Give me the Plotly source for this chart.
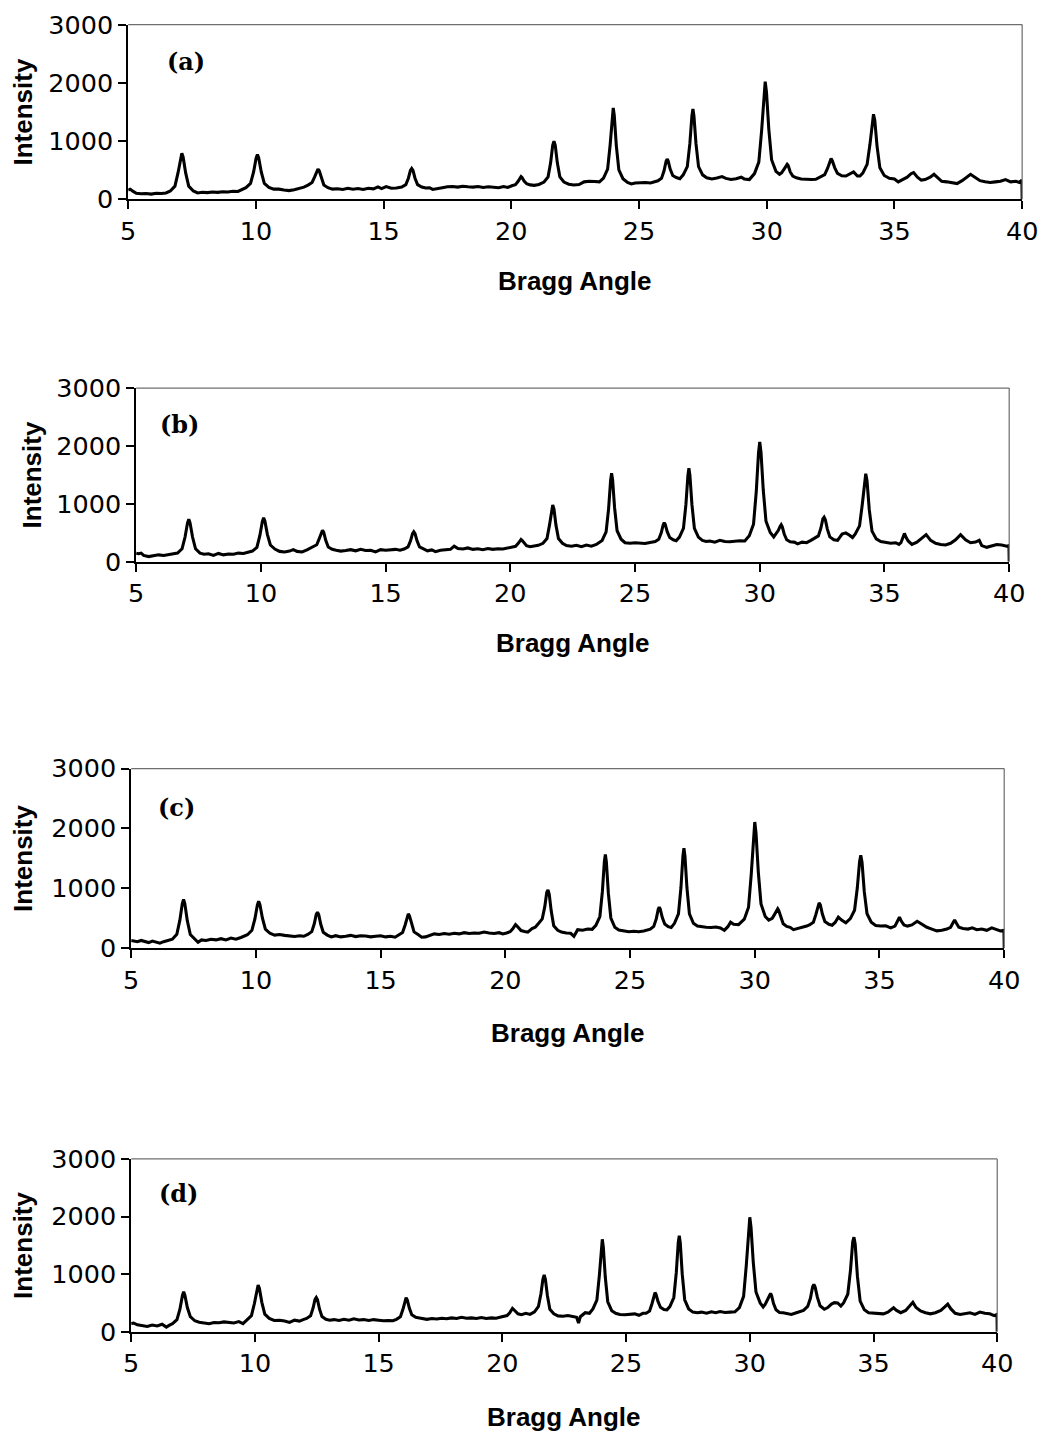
import plotly.graph_objects as go

# ---- diffraction scans: (2-theta in degrees, counts) ----
scan_a = [
    (5.00, 160), (5.08, 175), (5.18, 140), (5.32, 105), (5.50, 95), (5.70, 100), (5.90, 90), (6.10, 105),
    (6.30, 100), (6.48, 110), (6.65, 144), (6.83, 226), (6.95, 453), (7.05, 727), (7.10, 790), (7.15, 727),
    (7.25, 453), (7.37, 226), (7.55, 144), (7.72, 110), (7.90, 120), (8.10, 115), (8.30, 125), (8.50, 120),
    (8.70, 130), (8.90, 125), (9.10, 140), (9.30, 135), (9.45, 160), (9.61, 200), (9.79, 272), (9.91, 470),
    (10.01, 710), (10.06, 770), (10.11, 710), (10.21, 470), (10.33, 275), (10.51, 205), (10.70, 175),
    (10.90, 175), (11.10, 160), (11.30, 150), (11.50, 165), (11.70, 185), (11.88, 210), (12.04, 245),
    (12.20, 290), (12.30, 385), (12.38, 490), (12.43, 520), (12.48, 490), (12.56, 360), (12.66, 245),
    (12.82, 200), (13.00, 175), (13.20, 180), (13.40, 170), (13.60, 190), (13.80, 175), (14.00, 185),
    (14.20, 170), (14.40, 190), (14.60, 180), (14.78, 215), (14.92, 185), (15.10, 220), (15.30, 190),
    (15.50, 195), (15.71, 212), (15.87, 252), (15.97, 362), (16.05, 497), (16.10, 530), (16.15, 497),
    (16.23, 362), (16.33, 252), (16.49, 212), (16.65, 195), (16.80, 200), (16.92, 170), (17.10, 190),
    (17.30, 200), (17.50, 215), (17.70, 220), (17.90, 210), (18.10, 225), (18.30, 215), (18.50, 210),
    (18.70, 220), (18.90, 205), (19.10, 215), (19.30, 210), (19.50, 200), (19.70, 220), (19.86, 205),
    (20.02, 233), (20.16, 252), (20.26, 305), (20.34, 374), (20.38, 390), (20.42, 374), (20.50, 315),
    (20.60, 268), (20.74, 248), (20.90, 240), (21.08, 255), (21.28, 297), (21.44, 386), (21.54, 630),
    (21.62, 926), (21.67, 1000), (21.72, 926), (21.80, 630), (21.90, 386), (22.06, 297), (22.25, 260),
    (22.45, 245), (22.65, 255), (22.85, 300), (23.05, 310), (23.25, 305), (23.45, 300), (23.61, 364),
    (23.77, 517), (23.87, 937), (23.95, 1447), (23.99, 1570), (24.03, 1447), (24.11, 927), (24.21, 507),
    (24.37, 354), (24.55, 290), (24.70, 265), (24.85, 280), (25.05, 285), (25.25, 290), (25.45, 280),
    (25.60, 300), (25.74, 318), (25.88, 360), (25.98, 490), (26.06, 654), (26.10, 690), (26.14, 660),
    (26.22, 520), (26.32, 410), (26.46, 375), (26.60, 355), (26.73, 420), (26.89, 562), (26.99, 955),
    (27.07, 1431), (27.11, 1550), (27.15, 1431), (27.23, 955), (27.33, 562), (27.49, 420), (27.65, 370),
    (27.85, 350), (28.05, 365), (28.25, 390), (28.40, 360), (28.60, 340), (28.80, 355), (29.00, 380),
    (29.12, 350), (29.32, 340), (29.52, 442), (29.69, 640), (29.80, 1180), (29.89, 1836), (29.94, 2020),
    (29.99, 1840), (30.08, 1210), (30.19, 680), (30.36, 480), (30.50, 430), (30.58, 455), (30.68, 520),
    (30.76, 580), (30.80, 600), (30.84, 580), (30.92, 470), (31.02, 400), (31.16, 370), (31.35, 350),
    (31.55, 340), (31.75, 340), (31.92, 345), (32.10, 386), (32.27, 425), (32.38, 530), (32.47, 660),
    (32.52, 700), (32.57, 660), (32.66, 545), (32.77, 445), (32.94, 405), (33.10, 400), (33.25, 440),
    (33.40, 470), (33.55, 400), (33.65, 400), (33.76, 450), (33.93, 600), (34.04, 940), (34.13, 1360),
    (34.18, 1460), (34.23, 1360), (34.32, 910), (34.43, 540), (34.60, 410), (34.80, 360), (35.00, 350),
    (35.15, 300), (35.30, 330), (35.50, 380), (35.65, 440), (35.75, 460), (35.90, 380), (36.05, 330),
    (36.20, 340), (36.40, 380), (36.55, 430), (36.70, 370), (36.85, 310), (37.05, 300), (37.25, 290),
    (37.45, 270), (37.65, 320), (37.85, 390), (37.98, 430), (38.15, 380), (38.35, 320), (38.55, 300),
    (38.75, 290), (38.95, 300), (39.15, 310), (39.35, 340), (39.55, 300), (39.75, 310), (39.90, 290),
    (39.99, 330), (40.00, 0),
]

scan_b = [
    (5.00, 150), (5.10, 140), (5.20, 150), (5.30, 110), (5.50, 90), (5.70, 100), (5.90, 120), (6.10, 110),
    (6.30, 125), (6.48, 135), (6.66, 150), (6.84, 225), (6.96, 428), (7.06, 673), (7.11, 735), (7.16, 673),
    (7.26, 428), (7.38, 225), (7.56, 150), (7.72, 130), (7.90, 140), (8.10, 110), (8.30, 145), (8.50, 120),
    (8.70, 135), (8.90, 130), (9.10, 150), (9.30, 145), (9.48, 165), (9.66, 185), (9.84, 250), (9.96, 455),
    (10.06, 700), (10.11, 760), (10.16, 705), (10.26, 475), (10.38, 290), (10.56, 220), (10.75, 180),
    (10.95, 170), (11.15, 185), (11.30, 210), (11.45, 180), (11.65, 170), (11.85, 205), (12.08, 255),
    (12.24, 295), (12.34, 400), (12.42, 515), (12.47, 545), (12.52, 510), (12.60, 370), (12.70, 255),
    (12.86, 215), (13.02, 200), (13.20, 185), (13.40, 195), (13.60, 210), (13.80, 190), (14.00, 215),
    (14.20, 195), (14.40, 200), (14.60, 170), (14.80, 210), (15.00, 200), (15.20, 210), (15.40, 215),
    (15.58, 200), (15.74, 220), (15.90, 258), (16.00, 362), (16.08, 488), (16.13, 520), (16.18, 488),
    (16.26, 362), (16.36, 258), (16.52, 220), (16.68, 190), (16.85, 205), (17.00, 175), (17.20, 200),
    (17.40, 210), (17.60, 215), (17.75, 270), (17.90, 230), (18.10, 220), (18.30, 240), (18.50, 215),
    (18.70, 225), (18.90, 210), (19.10, 230), (19.30, 215), (19.50, 225), (19.70, 220), (19.90, 240),
    (20.07, 250), (20.21, 268), (20.31, 315), (20.39, 370), (20.43, 385), (20.47, 370), (20.55, 320),
    (20.65, 278), (20.79, 262), (20.95, 275), (21.12, 285), (21.31, 320), (21.47, 403), (21.57, 633),
    (21.65, 910), (21.70, 980), (21.75, 910), (21.83, 633), (21.93, 403), (22.09, 320), (22.25, 280),
    (22.45, 270), (22.65, 285), (22.85, 260), (23.05, 290), (23.25, 270), (23.45, 300), (23.68, 370),
    (23.84, 516), (23.94, 915), (24.02, 1400), (24.06, 1530), (24.10, 1420), (24.18, 935), (24.28, 536),
    (24.44, 390), (24.60, 330), (24.80, 320), (25.00, 330), (25.20, 325), (25.40, 315), (25.60, 335),
    (25.81, 350), (25.95, 390), (26.05, 500), (26.13, 640), (26.17, 675), (26.21, 645), (26.29, 520),
    (26.39, 420), (26.53, 380), (26.65, 365), (26.78, 427), (26.94, 577), (27.04, 990), (27.12, 1490),
    (27.16, 1615), (27.20, 1490), (27.28, 990), (27.38, 577), (27.54, 427), (27.70, 370), (27.85, 350),
    (28.00, 360), (28.20, 340), (28.40, 370), (28.60, 350), (28.80, 345), (29.00, 360), (29.20, 365),
    (29.40, 360), (29.58, 450), (29.75, 650), (29.86, 1210), (29.95, 1880), (30.00, 2070), (30.05, 1890),
    (30.14, 1240), (30.25, 700), (30.42, 505), (30.56, 430), (30.64, 470), (30.74, 540), (30.82, 615),
    (30.86, 640), (30.90, 610), (30.98, 480), (31.08, 380), (31.22, 345), (31.38, 340), (31.52, 310),
    (31.70, 340), (31.88, 330), (32.05, 370), (32.19, 400), (32.35, 448), (32.45, 580), (32.53, 740),
    (32.58, 770), (32.63, 725), (32.71, 565), (32.81, 430), (32.97, 380), (33.12, 370), (33.30, 480),
    (33.45, 500), (33.60, 460), (33.72, 420), (33.83, 480), (34.00, 620), (34.11, 990), (34.20, 1410),
    (34.25, 1520), (34.30, 1400), (34.39, 900), (34.50, 530), (34.67, 395), (34.85, 350), (35.05, 340),
    (35.25, 320), (35.45, 330), (35.58, 300), (35.66, 330), (35.74, 430), (35.80, 490), (35.87, 420),
    (35.95, 360), (36.10, 300), (36.30, 340), (36.50, 410), (36.67, 470), (36.85, 370), (37.05, 320),
    (37.25, 300), (37.45, 290), (37.65, 320), (37.85, 380), (38.05, 470), (38.25, 380), (38.45, 330),
    (38.65, 340), (38.80, 370), (38.90, 280), (39.10, 250), (39.30, 280), (39.50, 300), (39.70, 290),
    (39.90, 270), (39.99, 280), (40.00, 0),
]

scan_c = [
    (5.00, 130), (5.10, 120), (5.25, 110), (5.40, 130), (5.55, 115), (5.70, 95), (5.85, 120), (6.00, 100),
    (6.15, 85), (6.30, 110), (6.48, 125), (6.65, 150), (6.83, 234), (6.95, 465), (7.05, 745), (7.10, 815),
    (7.15, 745), (7.25, 460), (7.37, 230), (7.55, 145), (7.68, 100), (7.82, 140), (8.00, 130), (8.20, 150),
    (8.40, 140), (8.60, 160), (8.80, 140), (9.00, 170), (9.20, 150), (9.40, 180), (9.52, 195), (9.66, 225),
    (9.84, 300), (9.96, 490), (10.06, 725), (10.11, 785), (10.16, 730), (10.26, 505), (10.38, 320),
    (10.56, 250), (10.75, 220), (10.95, 230), (11.15, 215), (11.35, 200), (11.55, 195), (11.75, 210),
    (11.92, 200), (12.08, 230), (12.24, 277), (12.34, 408), (12.42, 565), (12.47, 600), (12.52, 560),
    (12.60, 400), (12.70, 268), (12.86, 220), (13.02, 190), (13.20, 210), (13.40, 190), (13.60, 200),
    (13.80, 215), (14.00, 195), (14.20, 210), (14.40, 205), (14.60, 190), (14.80, 200), (15.00, 210),
    (15.20, 190), (15.40, 200), (15.58, 185), (15.72, 218), (15.88, 263), (15.98, 385), (16.06, 533),
    (16.11, 575), (16.16, 537), (16.24, 395), (16.34, 273), (16.50, 228), (16.65, 185), (16.80, 190),
    (16.95, 210), (17.15, 240), (17.35, 230), (17.55, 245), (17.75, 235), (17.95, 250), (18.15, 240),
    (18.35, 260), (18.55, 245), (18.75, 255), (18.95, 250), (19.15, 270), (19.35, 255), (19.55, 245),
    (19.75, 260), (19.90, 240), (20.05, 255), (20.19, 275), (20.29, 320), (20.37, 380), (20.41, 395),
    (20.45, 380), (20.53, 335), (20.63, 295), (20.77, 280), (20.90, 270), (21.07, 330), (21.20, 350),
    (21.32, 410), (21.48, 490), (21.58, 690), (21.66, 930), (21.71, 975), (21.76, 900), (21.84, 620),
    (21.94, 375), (22.10, 300), (22.25, 270), (22.45, 255), (22.62, 250), (22.75, 200), (22.90, 310),
    (23.10, 300), (23.30, 320), (23.48, 315), (23.63, 382), (23.79, 530), (23.89, 945), (23.97, 1445),
    (24.01, 1565), (24.05, 1440), (24.13, 920), (24.23, 505), (24.39, 350), (24.55, 305), (24.75, 285),
    (24.95, 275), (25.15, 285), (25.35, 275), (25.55, 290), (25.68, 300), (25.81, 318), (25.95, 365),
    (26.05, 490), (26.13, 650), (26.17, 686), (26.21, 655), (26.29, 515), (26.39, 405), (26.53, 360),
    (26.65, 345), (26.78, 416), (26.94, 574), (27.04, 1010), (27.12, 1540), (27.16, 1672), (27.20, 1540),
    (27.28, 1010), (27.38, 574), (27.54, 416), (27.70, 370), (27.88, 355), (28.05, 350), (28.25, 345),
    (28.45, 355), (28.62, 340), (28.78, 300), (28.92, 360), (29.03, 435), (29.15, 400), (29.35, 395),
    (29.58, 485), (29.75, 685), (29.86, 1240), (29.95, 1910), (30.00, 2107), (30.05, 1920), (30.14, 1280),
    (30.25, 740), (30.42, 530), (30.56, 470), (30.70, 500), (30.80, 570), (30.88, 635), (30.92, 658),
    (30.96, 630), (31.04, 520), (31.14, 410), (31.28, 365), (31.42, 350), (31.55, 310), (31.75, 330),
    (31.95, 360), (32.08, 370), (32.19, 390), (32.35, 435), (32.45, 565), (32.53, 720), (32.58, 758),
    (32.63, 722), (32.71, 570), (32.81, 445), (32.97, 400), (33.10, 385), (33.22, 430), (33.35, 520),
    (33.48, 470), (33.65, 425), (33.83, 495), (34.00, 635), (34.11, 1005), (34.20, 1440), (34.25, 1550),
    (34.30, 1435), (34.39, 945), (34.50, 575), (34.67, 435), (34.85, 380), (35.05, 370), (35.25, 375),
    (35.45, 340), (35.62, 370), (35.72, 470), (35.80, 518), (35.88, 450), (35.98, 390), (36.12, 370),
    (36.30, 390), (36.51, 451), (36.70, 400), (36.90, 350), (37.10, 320), (37.30, 290), (37.50, 300),
    (37.70, 320), (37.85, 350), (37.94, 430), (38.01, 474), (38.08, 420), (38.18, 350), (38.35, 330),
    (38.55, 320), (38.72, 340), (38.90, 310), (39.10, 320), (39.30, 300), (39.50, 340), (39.70, 310),
    (39.85, 290), (39.99, 300), (40.00, 0),
]

scan_d = [
    (5.00, 140), (5.10, 150), (5.25, 120), (5.45, 110), (5.65, 90), (5.85, 115), (6.05, 100), (6.25, 130),
    (6.42, 80), (6.55, 115), (6.67, 140), (6.85, 210), (6.97, 390), (7.07, 625), (7.12, 695), (7.17, 635),
    (7.27, 420), (7.39, 260), (7.57, 190), (7.75, 165), (7.95, 150), (8.15, 140), (8.35, 160), (8.55, 155),
    (8.75, 170), (8.95, 165), (9.15, 150), (9.35, 175), (9.52, 140), (9.68, 205), (9.86, 280), (9.98, 490),
    (10.08, 750), (10.13, 810), (10.18, 755), (10.28, 510), (10.40, 305), (10.58, 230), (10.78, 195),
    (11.00, 200), (11.20, 185), (11.40, 160), (11.60, 200), (11.80, 185), (11.95, 210), (12.09, 230),
    (12.25, 277), (12.35, 408), (12.43, 560), (12.48, 595), (12.53, 555), (12.61, 395), (12.71, 262),
    (12.87, 215), (13.02, 200), (13.20, 210), (13.40, 195), (13.60, 215), (13.80, 200), (14.00, 225),
    (14.20, 205), (14.40, 210), (14.60, 195), (14.80, 210), (15.00, 200), (15.20, 190), (15.40, 195),
    (15.58, 190), (15.72, 215), (15.88, 260), (15.98, 385), (16.06, 540), (16.11, 590), (16.16, 550),
    (16.24, 410), (16.34, 295), (16.50, 250), (16.65, 240), (16.80, 225), (16.95, 215), (17.15, 230),
    (17.35, 220), (17.55, 235), (17.75, 225), (17.95, 240), (18.15, 230), (18.35, 250), (18.55, 235),
    (18.75, 240), (18.95, 230), (19.15, 245), (19.35, 230), (19.55, 240), (19.75, 235), (19.90, 250),
    (20.05, 262), (20.19, 280), (20.29, 325), (20.37, 390), (20.41, 405), (20.45, 390), (20.53, 345),
    (20.63, 310), (20.77, 295), (20.95, 320), (21.12, 300), (21.30, 345), (21.46, 440), (21.56, 660),
    (21.64, 915), (21.69, 985), (21.74, 910), (21.82, 630), (21.92, 390), (22.08, 310), (22.25, 275),
    (22.45, 270), (22.65, 280), (22.85, 260), (23.00, 250), (23.08, 150), (23.15, 260), (23.35, 330),
    (23.52, 320), (23.66, 395), (23.82, 550), (23.92, 975), (24.00, 1480), (24.04, 1605), (24.08, 1475),
    (24.16, 950), (24.26, 520), (24.42, 365), (24.58, 320), (24.75, 300), (24.95, 295), (25.15, 300),
    (25.35, 310), (25.52, 285), (25.68, 320), (25.81, 320), (25.95, 360), (26.05, 490), (26.13, 645),
    (26.17, 680), (26.21, 650), (26.29, 525), (26.39, 425), (26.53, 385), (26.65, 380), (26.77, 436),
    (26.93, 594), (27.03, 1030), (27.11, 1555), (27.15, 1668), (27.19, 1545), (27.27, 1000), (27.37, 555),
    (27.53, 395), (27.70, 340), (27.88, 330), (28.05, 340), (28.25, 320), (28.45, 345), (28.62, 330),
    (28.80, 350), (29.00, 335), (29.20, 340), (29.40, 345), (29.58, 420), (29.75, 615), (29.86, 1160),
    (29.95, 1800), (30.00, 1987), (30.05, 1810), (30.14, 1210), (30.25, 690), (30.42, 500), (30.54, 430),
    (30.62, 475), (30.72, 560), (30.80, 640), (30.84, 666), (30.88, 630), (30.96, 490), (31.06, 380),
    (31.20, 335), (31.35, 330), (31.50, 320), (31.68, 300), (31.88, 330), (32.05, 360), (32.17, 370),
    (32.34, 440), (32.45, 580), (32.54, 780), (32.59, 823), (32.64, 775), (32.73, 600), (32.84, 450),
    (33.01, 390), (33.15, 420), (33.30, 480), (33.42, 505), (33.55, 500), (33.68, 445), (33.79, 500),
    (33.96, 650), (34.07, 1070), (34.16, 1560), (34.21, 1640), (34.26, 1520), (34.35, 960), (34.46, 530),
    (34.63, 380), (34.80, 330), (35.00, 325), (35.20, 320), (35.40, 310), (35.58, 340), (35.70, 385),
    (35.81, 415), (35.93, 370), (36.10, 330), (36.30, 370), (36.45, 440), (36.59, 510), (36.72, 420),
    (36.90, 360), (37.10, 330), (37.30, 310), (37.50, 330), (37.72, 370), (37.88, 430), (38.00, 480),
    (38.12, 400), (38.30, 320), (38.50, 300), (38.70, 320), (38.90, 330), (39.10, 300), (39.30, 340),
    (39.50, 320), (39.70, 310), (39.88, 280), (39.99, 300), (40.00, 0),
]

panel_names = ["(a)", "(b)", "(c)", "(d)"]
x_ticks = [5, 10, 15, 20, 25, 30, 35, 40]
y_ticks = [0, 1000, 2000, 3000]

# ---- screen geometry ----
# The page shows the figure slightly reduced and shifted; boxes below are
# given in on-screen pixels and converted to figure pixels.
ZOOM = 0.981
SHIFT_X, SHIFT_Y = 6.4, 13.4
W, H = 1075, 1470
# plot-area boxes on screen: left, right, top, bottom
boxes = [(127, 1024, 23, 198), (135, 1011, 387, 561), (130, 1006, 768, 948), (130, 999, 1159, 1332)]
tag_xy = [(185, 60), (178, 424), (175, 808), (177, 1194)]
ytitle_x = [21, 30, 22, 22]
xtitle_y = [280, 642, 1033, 1417]


def px(x):
    return (x - SHIFT_X) / ZOOM / W


def py(y):
    return 1 - (y - SHIFT_Y) / ZOOM / H


def sz(v):
    return v / ZOOM


series = [scan_a, scan_b, scan_c, scan_d]

SANS = "Liberation Sans, Arial, sans-serif"
TICK_FONT = "DejaVu Sans, Verdana, sans-serif"
SERIF = "DejaVu Serif, serif"

fig = go.Figure()
annotations = []
shapes = []
for i, (scan, (l, r, t, b)) in enumerate(zip(series, boxes)):
    n = "" if i == 0 else str(i + 1)
    xs = [p[0] for p in scan]
    ys = [p[1] for p in scan]
    fig.add_trace(go.Scatter(x=xs, y=ys, mode="lines", xaxis="x" + n, yaxis="y" + n,
                             line=dict(color="black", width=sz(3.0)), showlegend=False,
                             hoverinfo="skip"))
    common = dict(showgrid=False, zeroline=False, showline=True, linecolor="black",
                  linewidth=sz(1.5), ticks="outside", ticklen=sz(8), tickwidth=sz(1.5),
                  tickcolor="black", tickfont=dict(family=TICK_FONT, size=sz(25), color="black"))
    fig.layout["xaxis" + n] = dict(domain=[px(l), px(r)], range=[5, 40], tickvals=x_ticks,
                                   anchor="y" + n, ticklabelstandoff=0, **common)
    fig.layout["yaxis" + n] = dict(domain=[py(b), py(t)], range=[0, 3000], tickvals=y_ticks,
                                   anchor="x" + n, **common)
    # thin grey frame on the top and right of each plot area
    xr, yr = "x" + n + " domain", "y" + n + " domain"
    shapes.append(dict(type="line", xref=xr, yref=yr, x0=0, x1=1, y0=1, y1=1,
                       line=dict(color="#6e6e6e", width=sz(1.2))))
    shapes.append(dict(type="line", xref=xr, yref=yr, x0=1, x1=1, y0=0, y1=1,
                       line=dict(color="#6e6e6e", width=sz(1.2))))
    # axis titles and panel tag
    annotations.append(dict(text="<b>Intensity</b>", xref="paper", yref="paper",
                            x=px(ytitle_x[i]), y=py((t + b) / 2), textangle=-90,
                            showarrow=False, xanchor="center", yanchor="middle",
                            font=dict(family=SANS, size=sz(25.5), color="black")))
    annotations.append(dict(text="<b>Bragg Angle</b>", xref="paper", yref="paper",
                            x=px((l + r) / 2), y=py(xtitle_y[i]),
                            showarrow=False, xanchor="center", yanchor="middle",
                            font=dict(family=SANS, size=sz(25.5), color="black")))
    annotations.append(dict(text="<b>" + panel_names[i] + "</b>", xref="paper", yref="paper",
                            x=px(tag_xy[i][0]), y=py(tag_xy[i][1]),
                            showarrow=False, xanchor="center", yanchor="middle",
                            font=dict(family=SERIF, size=sz(23.5), color="black")))

fig.update_layout(width=W, height=H, margin=dict(l=0, r=0, t=0, b=0),
                  paper_bgcolor="white", plot_bgcolor="white",
                  annotations=annotations, shapes=shapes)

fig.write_html("out.html")
